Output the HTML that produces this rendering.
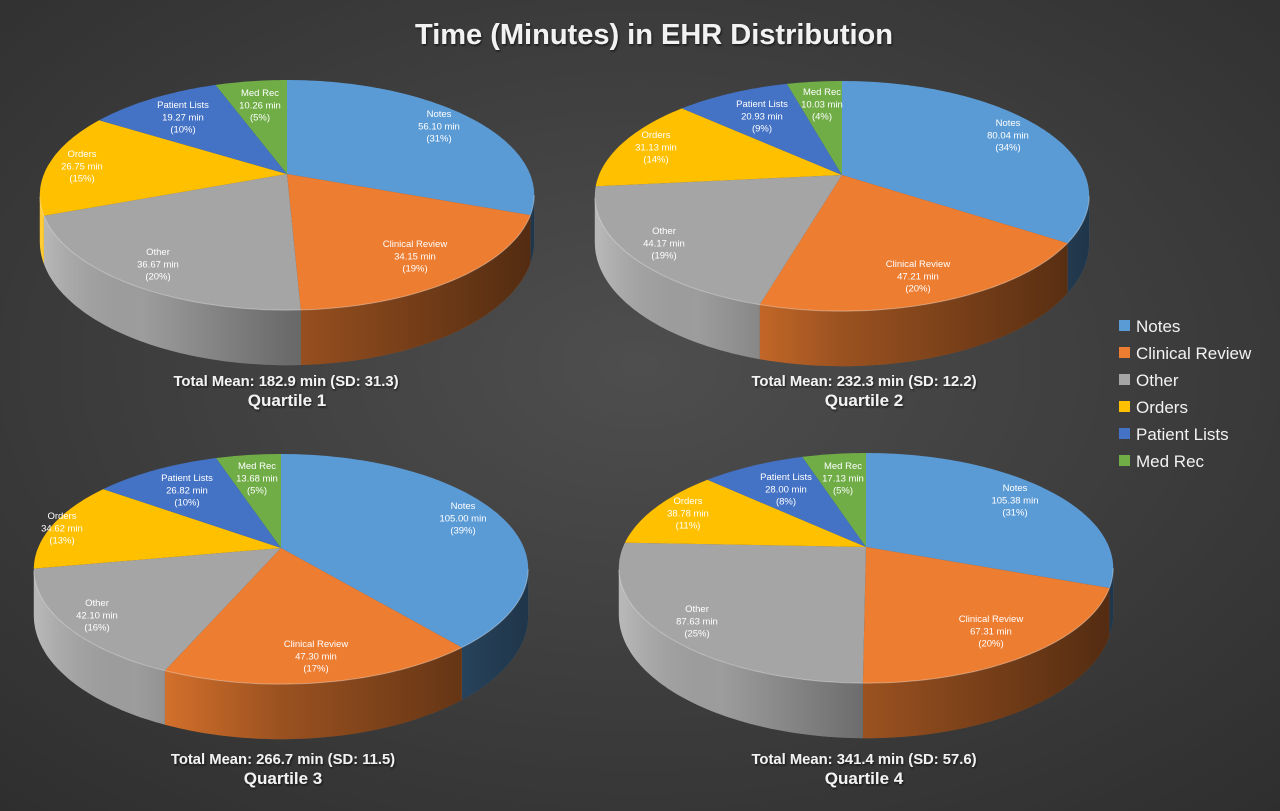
<!DOCTYPE html>
<html><head><meta charset="utf-8"><style>
html,body{margin:0;padding:0;}
body{width:1280px;height:811px;overflow:hidden;background:#3d3d3d;}
svg{display:block;}
text{font-family:"Liberation Sans",sans-serif;}
.lb{fill:#fff;font-size:9.5px;text-anchor:middle;}
.cap{fill:#f2f2f2;font-weight:bold;text-anchor:middle;}
</style></head><body>
<svg id="s" width="1280" height="811" xmlns="http://www.w3.org/2000/svg">
<defs>
<radialGradient id="bg" cx="50%" cy="45%" r="75%">
<stop offset="0" stop-color="#4e4e4e"/><stop offset="1" stop-color="#2e2e2e"/>
</radialGradient>
<filter id="sh" x="-5%" y="-20%" width="110%" height="140%"><feDropShadow dx="1" dy="1.5" stdDeviation="1" flood-color="#000" flood-opacity="0.6"/></filter>
</defs>
<rect width="1280" height="811" fill="url(#bg)"/>
<g id="pies"></g>
<text x="654" y="44" class="cap" style="font-size:29px" filter="url(#sh)">Time (Minutes) in EHR Distribution</text>
<g class="cap" filter="url(#sh)">
<text x="286" y="386" style="font-size:14.8px">Total Mean: 182.9 min (SD: 31.3)</text>
<text x="287" y="406" style="font-size:17px">Quartile 1</text>
<text x="864" y="386" style="font-size:14.8px">Total Mean: 232.3 min (SD: 12.2)</text>
<text x="864" y="406" style="font-size:17px">Quartile 2</text>
<text x="283" y="764" style="font-size:14.8px">Total Mean: 266.7 min (SD: 11.5)</text>
<text x="283" y="784" style="font-size:17px">Quartile 3</text>
<text x="864" y="764" style="font-size:14.8px">Total Mean: 341.4 min (SD: 57.6)</text>
<text x="864" y="784" style="font-size:17px">Quartile 4</text>
</g>
<g style="font-size:17px;fill:#f2f2f2">
<rect x="1119" y="320" width="11" height="11" fill="#5b9bd5"/><text x="1136" y="332">Notes</text>
<rect x="1119" y="347" width="11" height="11" fill="#ed7d31"/><text x="1136" y="359">Clinical Review</text>
<rect x="1119" y="374" width="11" height="11" fill="#a5a5a5"/><text x="1136" y="386">Other</text>
<rect x="1119" y="401" width="11" height="11" fill="#ffc000"/><text x="1136" y="413">Orders</text>
<rect x="1119" y="428" width="11" height="11" fill="#4472c4"/><text x="1136" y="440">Patient Lists</text>
<rect x="1119" y="455" width="11" height="11" fill="#70ad47"/><text x="1136" y="467">Med Rec</text>
</g>
<g id="labels"></g>
</svg>
<script>
(function(){
var NS="http://www.w3.org/2000/svg";
var C=['#5b9bd5','#ed7d31','#a5a5a5','#ffc000','#4472c4','#70ad47'];
var N=['Notes','Clinical Review','Other','Orders','Patient Lists','Med Rec'];
var R=243,Ry=111.2,p=0.183,D=45;
var pies=[
{ax:287,ay:174,v:[56.10,34.15,36.67,26.75,19.27,10.26],pc:[31,19,20,15,10,5],
 L:[[439,113],[415,243],[158,251],[82,153],[183,104],[260,92]]},
{ax:842,ay:175,v:[80.04,47.21,44.17,31.13,20.93,10.03],pc:[34,20,19,14,9,4],
 L:[[1008,122],[918,263],[664,230],[656,134],[762,103],[822,91]]},
{ax:281,ay:548,v:[105.00,47.30,42.10,34.62,26.82,13.68],pc:[39,17,16,13,10,5],
 L:[[463,505],[316,643],[97,602],[62,515],[187,477],[257,465]]},
{ax:866,ay:547,v:[105.38,67.31,87.63,38.78,28.00,17.13],pc:[31,20,25,11,8,5],
 L:[[1015,487],[991,618],[697,608],[688,500],[786,476],[843,465]]}
];
var g=document.getElementById('pies'),lg=document.getElementById('labels'),defs=document.querySelector('defs');
function el(n,a,par){var e=document.createElementNS(NS,n);for(var k in a)e.setAttribute(k,a[k]);(par||g).appendChild(e);return e;}
function pt(P,th,h){var v=-Math.cos(th),w=1/(1-p*v);return [P.ax+R*Math.sin(th)*w,P.ay+Ry*v*w+h*w];}
var s1=Math.PI/2+Math.asin(p),s2=2*Math.PI-s1;
pies.forEach(function(P,pi){
 var tot=P.v.reduce(function(a,b){return a+b},0);
 var gid='wg'+pi;
 var lgr=el('linearGradient',{id:gid,gradientUnits:'userSpaceOnUse',x1:P.ax-R,y1:0,x2:P.ax+R,y2:0},defs);
 [[0,'#fff',0.2],[0.2,'#000',0.05],[0.5,'#000',0.35],[1,'#000',0.65]].forEach(function(s){el('stop',{offset:s[0],'stop-color':s[1],'stop-opacity':s[2]},lgr);});
 var a=0,angs=[];
 P.v.forEach(function(x){var b=a+x/tot*2*Math.PI;angs.push([a,b]);a=b;});
 angs.forEach(function(ab,i){
  var a0=Math.max(ab[0],s1),b0=Math.min(ab[1],s2);
  if(b0<=a0)return;
  var top=[],bot=[],n=Math.max(2,Math.ceil((b0-a0)/0.02));
  for(var k=0;k<=n;k++){var t=a0+(b0-a0)*k/n;top.push(pt(P,t,0));bot.push(pt(P,t,D));}
  var pts=top.concat(bot.reverse());
  var d='M'+pts.map(function(q){return q[0].toFixed(1)+','+q[1].toFixed(1)}).join('L')+'Z';
  el('path',{d:d,fill:C[i]});
  el('path',{d:d,fill:'url(#'+gid+')'});
 });
 angs.forEach(function(ab,i){
  var n=Math.max(2,Math.ceil((ab[1]-ab[0])/0.02)),pts=[[P.ax,P.ay]];
  for(var k=0;k<=n;k++)pts.push(pt(P,ab[0]+(ab[1]-ab[0])*k/n,0));
  el('path',{d:'M'+pts.map(function(q){return q[0].toFixed(1)+','+q[1].toFixed(1)}).join('L')+'Z',fill:C[i]});
 });
 var rim=[];for(var t=s1;t<=s2;t+=0.02)rim.push(pt(P,t,0));
 el('path',{d:'M'+rim.map(function(q){return q[0].toFixed(1)+','+q[1].toFixed(1)}).join('L'),fill:'none',stroke:'rgba(255,255,255,0.35)','stroke-width':1});
 P.L.forEach(function(q,i){
  var t=el('text',{x:q[0],y:q[1]+4,'class':'lb'},lg);
  var lines=[N[i],P.v[i].toFixed(2)+' min','('+P.pc[i]+'%)'];
  lines.forEach(function(s,j){var ts=el('tspan',{x:q[0],dy:j?12.3:0},t);ts.textContent=s;});
 });
});
})();
</script>
</body></html>
